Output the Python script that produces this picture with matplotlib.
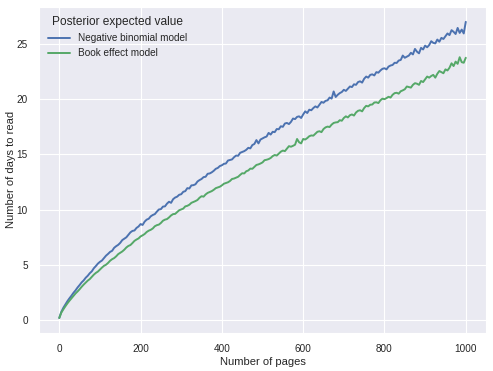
import matplotlib
matplotlib.use("Agg")
import matplotlib.pyplot as plt
import seaborn as sns

# pages read, one point every 5 pages
pages = list(range(0, 1001, 5))

# posterior expected number of days
neg_binom = [0.20, 0.75, 1.12, 1.42, 1.72, 1.98, 2.22, 2.48, 2.70, 2.96,
             3.18, 3.42, 3.60, 3.84, 4.02, 4.25, 4.42, 4.70, 4.90, 5.12,
             5.28, 5.40, 5.62, 5.84, 6.00, 6.18, 6.28, 6.55, 6.70, 6.82,
             7.00, 7.25, 7.38, 7.50, 7.72, 7.95, 8.08, 8.12, 8.35, 8.48,
             8.70, 8.62, 8.92, 9.10, 9.18, 9.40, 9.52, 9.60, 9.82, 10.02,
             10.05, 10.28, 10.30, 10.55, 10.72, 10.62, 10.95, 11.10, 11.18, 11.35,
             11.40, 11.62, 11.68, 11.95, 11.92, 12.20, 12.22, 12.30, 12.55, 12.68,
             12.78, 12.95, 12.98, 13.25, 13.28, 13.38, 13.52, 13.70, 13.78, 13.95,
             14.02, 14.15, 14.18, 14.45, 14.50, 14.55, 14.75, 14.90, 14.88, 15.15,
             15.22, 15.30, 15.42, 15.60, 15.55, 15.85, 15.95, 16.30, 16.00, 16.35,
             16.45, 16.55, 16.62, 16.95, 16.80, 17.05, 17.02, 17.30, 17.28, 17.55,
             17.50, 17.80, 17.85, 17.75, 17.95, 18.25, 18.20, 18.40, 18.45, 18.30,
             18.62, 18.90, 18.75, 19.05, 19.00, 19.20, 19.35, 19.25, 19.50, 19.75,
             19.68, 19.85, 19.90, 20.15, 20.05, 20.70, 20.20, 20.40, 20.55, 20.65,
             20.85, 20.75, 20.95, 21.15, 21.10, 21.35, 21.30, 21.55, 21.62, 21.50,
             21.85, 22.05, 21.95, 22.20, 22.25, 22.15, 22.45, 22.40, 22.60, 22.75,
             22.80, 22.70, 22.95, 23.05, 23.10, 23.30, 23.28, 23.50, 23.55, 23.95,
             23.75, 23.85, 23.95, 24.20, 24.05, 24.55, 24.30, 24.15, 24.65, 24.50,
             24.85, 24.70, 24.90, 25.25, 25.10, 25.05, 25.40, 25.20, 25.55, 25.45,
             25.70, 25.95, 25.80, 26.25, 26.10, 25.90, 26.45, 26.00, 26.30, 25.95,
             27.00]
book_effect = [0.20, 0.68, 0.98, 1.26, 1.52, 1.76, 1.98, 2.20, 2.42, 2.60,
               2.80, 3.02, 3.22, 3.40, 3.58, 3.72, 3.92, 4.12, 4.28, 4.40,
               4.58, 4.76, 4.92, 5.02, 5.18, 5.38, 5.52, 5.62, 5.78, 5.98,
               6.10, 6.22, 6.38, 6.58, 6.72, 6.80, 6.98, 7.18, 7.30, 7.40,
               7.58, 7.68, 7.80, 7.98, 8.10, 8.18, 8.30, 8.50, 8.60, 8.65,
               8.80, 9.00, 9.10, 9.15, 9.30, 9.48, 9.60, 9.62, 9.78, 9.95,
               10.02, 10.10, 10.30, 10.35, 10.45, 10.62, 10.70, 10.78, 10.88, 11.08,
               11.22, 11.18, 11.38, 11.52, 11.60, 11.68, 11.80, 11.95, 12.02, 12.08,
               12.20, 12.35, 12.42, 12.48, 12.60, 12.78, 12.82, 12.90, 12.98, 13.15,
               13.30, 13.28, 13.48, 13.55, 13.72, 13.70, 13.88, 14.05, 14.10, 14.18,
               14.28, 14.48, 14.52, 14.58, 14.68, 14.85, 14.95, 14.90, 15.08, 15.25,
               15.35, 15.30, 15.52, 15.75, 15.70, 15.78, 15.88, 16.40, 16.10, 16.00,
               16.40, 16.35, 16.48, 16.65, 16.72, 16.70, 16.88, 17.05, 17.10, 17.02,
               17.30, 17.45, 17.52, 17.48, 17.70, 17.85, 17.90, 17.92, 18.10, 18.05,
               18.30, 18.45, 18.35, 18.55, 18.62, 18.52, 18.80, 18.95, 19.00, 18.90,
               19.20, 19.40, 19.35, 19.50, 19.52, 19.70, 19.72, 19.65, 19.90, 20.05,
               20.00, 20.10, 20.22, 20.15, 20.40, 20.55, 20.58, 20.50, 20.72, 20.80,
               20.90, 21.15, 21.10, 21.05, 21.30, 21.45, 21.40, 21.30, 21.65, 21.55,
               21.80, 22.05, 21.95, 22.10, 22.20, 21.95, 22.30, 22.55, 22.45, 22.35,
               22.70, 22.60, 22.85, 23.25, 23.00, 23.40, 23.20, 23.80, 23.35, 23.30,
               23.75]

sns.set_style("darkgrid")
plt.rcParams['font.family'] = ['Liberation Sans', 'DejaVu Sans']

fig = plt.figure(figsize=(4.93, 3.71), dpi=100)
ax = fig.add_axes([0.079, 0.103, 0.907, 0.878])

ax.plot(pages, neg_binom, color="#4C72B0", lw=1.4, label="Negative binomial model")
ax.plot(pages, book_effect, color="#55A868", lw=1.4, label="Book effect model")

ax.set_xlabel("Number of pages", fontsize=8, color="#262626", labelpad=2)
ax.set_ylabel("Number of days to read", fontsize=8, color="#262626", labelpad=0.5)
ax.tick_params(labelsize=7.2, colors="#262626", pad=4.5)
ax.set_xticks([0, 200, 400, 600, 800, 1000])
ax.set_yticks([0, 5, 10, 15, 20, 25])

leg = ax.legend(title="Posterior expected value", loc="upper left", frameon=False,
                fontsize=7.2, title_fontsize=8.6, handlelength=2.2)

fig.savefig("out.png", dpi=100)
